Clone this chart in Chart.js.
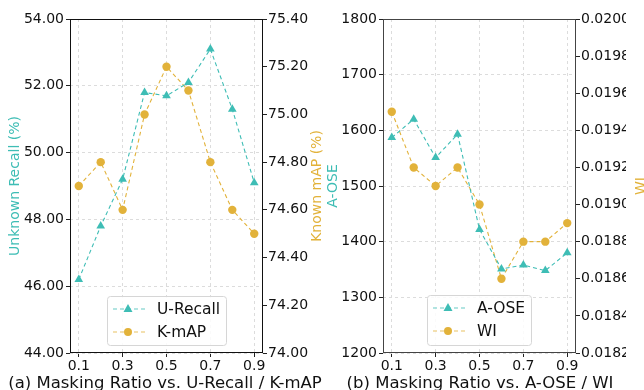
<!DOCTYPE html>
<html>
<head>
<meta charset="utf-8">
<script src="https://cdn.jsdelivr.net/npm/chart.js@4/dist/chart.umd.min.js"></script>
<style>
  html, body { margin: 0; padding: 0; background: #fff; }
  #wrap { position: relative; width: 644px; height: 390px; overflow: hidden; }
  #wrap canvas { position: absolute; left: 0; top: 0; }
</style>
</head>
<body>
<div id="wrap">
  <canvas id="chart-a" width="644" height="390"></canvas>
  <canvas id="chart-b" width="644" height="390"></canvas>
</div>
<script>
// --- données ---
const ratios = [0.1, 0.2, 0.3, 0.4, 0.5, 0.6, 0.7, 0.8, 0.9];
const xTicks = [0.1, 0.3, 0.5, 0.7, 0.9];

const uRecall = [46.2, 47.8, 49.2, 51.8, 51.7, 52.1, 53.1, 51.3, 49.1];
const kMap = [74.70, 74.80, 74.60, 75.00, 75.20, 75.10, 74.80, 74.60, 74.50];

const aOse = [1587, 1620, 1551, 1593, 1422, 1351, 1358, 1348, 1380];
const wi = [0.0195, 0.0192, 0.0191, 0.0192, 0.0190, 0.0186, 0.0188, 0.0188, 0.0189];

const recallTicks = [44, 46, 48, 50, 52, 54];
const mapTicks = [74.0, 74.2, 74.4, 74.6, 74.8, 75.0, 75.2, 75.4];
const aoseTicks = [1200, 1300, 1400, 1500, 1600, 1700, 1800];
const wiTicks = [0.0182, 0.0184, 0.0186, 0.0188, 0.0190, 0.0192, 0.0194, 0.0196, 0.0198, 0.0200];

const TEAL = '#3ebdb5';
const GOLD = '#e2b23a';
const FONT = "'DejaVu Sans', sans-serif";

Chart.defaults.font.family = FONT;
Chart.defaults.color = '#111';

function pts(ys) {
    return ratios.map((x, i) => ({x: x, y: ys[i]}));
}

function setTicks(list) {
    return scale => { scale.ticks = list.map(v => ({value: v})); };
}

// texte + cadre + légende dessinés à la main (style matplotlib)
function decorPlugin(o) {
    return {
        id: 'decor',
        afterDraw(chart) {
            const ctx = chart.ctx;
            const a = chart.chartArea;
            ctx.save();
            // cadre
            ctx.strokeStyle = o.frame;
            ctx.lineWidth = 1;
            ctx.setLineDash([]);
            ctx.strokeRect(a.left + 0.5, a.top + 0.5, a.right - a.left - 1, a.bottom - a.top - 1);

            // titres des axes
            ctx.font = '14px ' + FONT;
            ctx.textAlign = 'center';
            ctx.textBaseline = 'middle';
            const cy = (a.top + a.bottom) / 2;
            [[o.leftTitle, o.leftX, TEAL], [o.rightTitle, o.rightX, GOLD]].forEach(([t, x, c]) => {
                ctx.save();
                ctx.translate(x, cy);
                ctx.rotate(-Math.PI / 2);
                ctx.fillStyle = c;
                ctx.fillText(t, 0, 0);
                ctx.restore();
            });

            // légende
            const L = o.legend;
            ctx.fillStyle = 'rgba(255,255,255,0.85)';
            ctx.strokeStyle = '#d6d6d6';
            ctx.beginPath();
            ctx.roundRect(L.x + 0.5, L.y + 0.5, L.w, L.h, 3);
            ctx.fill();
            ctx.stroke();
            ctx.font = '15.5px ' + FONT;
            ctx.textAlign = 'left';
            chart.data.datasets.forEach((ds, i) => {
                const yy = L.y + 13 + i * 23;
                ctx.strokeStyle = ds.borderColor;
                ctx.globalAlpha = 0.8;
                ctx.setLineDash([4, 3]);
                ctx.beginPath();
                ctx.moveTo(L.x + 6, yy);
                ctx.lineTo(L.x + 38, yy);
                ctx.stroke();
                ctx.setLineDash([]);
                ctx.globalAlpha = 1;
                ctx.fillStyle = ds.pointBackgroundColor;
                const mx = L.x + 21;
                ctx.beginPath();
                if (ds.pointStyle === 'triangle') {
                    ctx.moveTo(mx, yy - 5);
                    ctx.lineTo(mx + 4.5, yy + 3);
                    ctx.lineTo(mx - 4.5, yy + 3);
                    ctx.closePath();
                } else {
                    ctx.arc(mx, yy, 4, 0, Math.PI * 2);
                }
                ctx.fill();
                ctx.fillStyle = '#111';
                ctx.fillText(ds.label, L.x + 50, yy + 1);
            });

            // légende sous le graphique
            ctx.font = '16.5px ' + FONT;
            ctx.textAlign = 'center';
            ctx.textBaseline = 'alphabetic';
            ctx.fillStyle = '#111';
            ctx.fillText(o.caption, o.captionX, 388);
            ctx.restore();
        }
    };
}

function makeChart(id, o) {
    const series = o.series;
    return new Chart(document.getElementById(id), {
        type: 'line',
        data: {
            datasets: [{
                label: series[0].label,
                data: pts(series[0].data),
                yAxisID: 'y',
                borderColor: TEAL,
                backgroundColor: TEAL,
                pointBackgroundColor: TEAL,
                pointBorderWidth: 0,
                pointStyle: 'triangle',
                pointRadius: 5,
                borderWidth: 1.1,
                borderDash: [4, 3],
                tension: 0
            }, {
                label: series[1].label,
                data: pts(series[1].data),
                yAxisID: 'y1',
                borderColor: GOLD,
                backgroundColor: GOLD,
                pointBackgroundColor: GOLD,
                pointBorderWidth: 0,
                pointStyle: 'circle',
                pointRadius: 4.2,
                borderWidth: 1.1,
                borderDash: [4, 3],
                tension: 0
            }]
        },
        options: {
            responsive: false,
            animation: false,
            layout: { padding: { top: 19, bottom: 0, left: o.padLeft, right: o.padRight } },
            plugins: { legend: { display: false }, tooltip: { enabled: false } },
            scales: {
                x: {
                    type: 'linear',
                    min: 0.06,
                    max: 0.94,
                    afterBuildTicks: setTicks(xTicks),
                    afterFit: s => { s.height = 37; },
                    ticks: { font: { size: 14 }, color: '#111', padding: 1,
                             callback: v => v.toFixed(1), maxRotation: 0, autoSkip: false },
                    grid: { color: '#dcdcdc', tickColor: '#222', tickLength: 4, tickBorderDash: [] },
                    border: { display: false, dash: [3, 3] }
                },
                y: {
                    position: 'left',
                    min: o.yRange[0], max: o.yRange[1],
                    afterBuildTicks: setTicks(o.yTicks),
                    afterFit: s => { s.width = o.yWidth; },
                    ticks: { font: { size: 14 }, color: '#111', padding: 2,
                             callback: v => v.toFixed(o.yDec) },
                    grid: { color: '#dcdcdc', tickColor: '#222', tickLength: 4, tickBorderDash: [] },
                    border: { display: false, dash: [3, 3] }
                },
                y1: {
                    position: 'right',
                    min: o.y1Range[0], max: o.y1Range[1],
                    afterBuildTicks: setTicks(o.y1Ticks),
                    afterFit: s => { s.width = 50; },
                    ticks: { font: { size: 14 }, color: '#111', padding: 1,
                             callback: v => v.toFixed(o.y1Dec) },
                    grid: { drawOnChartArea: false, tickColor: '#222', tickLength: 4, tickBorderDash: [] },
                    border: { display: false }
                }
            }
        },
        plugins: [decorPlugin(o)]
    });
}

// --- graphique (a) ---
makeChart('chart-a', {
    series: [{label: 'U-Recall', data: uRecall}, {label: 'K-mAP', data: kMap}],
    padLeft: 0, padRight: 644 - 263 - 50, yWidth: 70,
    yRange: [44, 54], yTicks: recallTicks, yDec: 2,
    y1Range: [74.0, 75.4], y1Ticks: mapTicks, y1Dec: 2,
    leftTitle: 'Unknown Recall (%)', leftX: 15,
    rightTitle: 'Known mAP (%)', rightX: 317,
    legend: {x: 107, y: 296, w: 119, h: 49},
    caption: '(a) Masking Ratio vs. U-Recall / K-mAP', captionX: 165,
    frame: '#111'
});

// --- graphique (b) ---
makeChart('chart-b', {
    series: [{label: 'A-OSE', data: aOse}, {label: 'WI', data: wi}],
    padLeft: 383 - 50, padRight: 644 - 576 - 50, yWidth: 50,
    yRange: [1200, 1800], yTicks: aoseTicks, yDec: 0,
    y1Range: [0.0182, 0.0200], y1Ticks: wiTicks, y1Dec: 4,
    leftTitle: 'A-OSE', leftX: 333,
    rightTitle: 'WI', rightX: 641,
    legend: {x: 427, y: 295, w: 104, h: 50},
    caption: '(b) Masking Ratio vs. A-OSE / WI', captionX: 480,
    frame: '#444'
});
</script>
</body>
</html>
